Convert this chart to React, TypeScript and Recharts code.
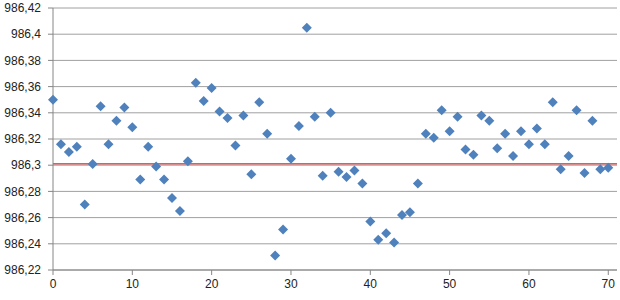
import { ScatterChart, Scatter, XAxis, YAxis, CartesianGrid, ReferenceLine } from 'recharts'

// sample index (0..70)
const sampleIndex = [
  0, 1, 2, 3, 4, 5, 6, 7, 8, 9, 10, 11, 12, 13, 14, 15, 16, 17, 18, 19, 20, 21, 22, 23, 24, 25, 26, 27, 28, 29, 30,
  31, 32, 33, 34, 35, 36, 37, 38, 39, 40, 41, 42, 43, 44, 45, 46, 47, 48, 49, 50, 51, 52, 53, 54, 55, 56, 57, 58, 59,
  60, 61, 62, 63, 64, 65, 66, 67, 68, 69, 70,
]
const measured = [
  986.35, 986.316, 986.31, 986.314, 986.27, 986.301, 986.345, 986.316, 986.334, 986.344, 986.329, 986.289, 986.314,
  986.299, 986.289, 986.275, 986.265, 986.303, 986.363, 986.349, 986.359, 986.341, 986.336, 986.315, 986.338, 986.293,
  986.348, 986.324, 986.231, 986.251, 986.305, 986.33, 986.405, 986.337, 986.292, 986.34, 986.295, 986.291, 986.296,
  986.286, 986.257, 986.243, 986.248, 986.241, 986.262, 986.264, 986.286, 986.324, 986.321, 986.342, 986.326, 986.337,
  986.312, 986.308, 986.338, 986.334, 986.313, 986.324, 986.307, 986.326, 986.316, 986.328, 986.316, 986.348, 986.297,
  986.307, 986.342, 986.294, 986.334, 986.297, 986.298,
]
const yTicks = [986.22, 986.24, 986.26, 986.28, 986.3, 986.32, 986.34, 986.36, 986.38, 986.4, 986.42]
const xTicks = [0, 10, 20, 30, 40, 50, 60, 70]
const refLevel = 986.301

const data = sampleIndex.map((x, i) => ({ x, y: measured[i] }))

const fmtY = (v: number) => String(Number(v.toFixed(2))).replace('.', ',')

const Diamond = (props: any) => {
  const { cx, cy } = props
  const r = 5
  return <polygon points={`${cx},${cy - r} ${cx + r},${cy} ${cx},${cy + r} ${cx - r},${cy}`} fill="#4f81bd" />
}

const axisFont = { fontFamily: '"Liberation Sans", Arial, sans-serif', fontSize: 12, fill: '#222' }

export default function App() {
  return (
    <div style={{ position: 'absolute', left: 0, top: 0, width: 620, height: 300, background: '#fff' }}>
      <ScatterChart width={620} height={300} margin={{ top: 8, right: 3, left: 0, bottom: 0 }}>
        <CartesianGrid vertical={false} stroke="#a0a0a0" />
        <XAxis
          type="number"
          dataKey="x"
          domain={[0, 71.1]}
          ticks={xTicks}
          interval={0}
          height={30}
          tick={axisFont}
          tickSize={5}
          tickMargin={4}
          axisLine={{ stroke: '#868686' }}
          tickLine={{ stroke: '#868686' }}
        />
        <YAxis
          type="number"
          dataKey="y"
          domain={[986.22, 986.42]}
          ticks={yTicks}
          interval={0}
          width={53}
          tick={axisFont}
          tickFormatter={fmtY}
          tickSize={5}
          tickMargin={7}
          axisLine={{ stroke: '#868686' }}
          tickLine={{ stroke: '#868686' }}
        />
        <ReferenceLine y={refLevel} stroke="#c00000" strokeWidth={1} />
        <Scatter data={data} shape={<Diamond />} isAnimationActive={false} />
      </ScatterChart>
    </div>
  )
}
